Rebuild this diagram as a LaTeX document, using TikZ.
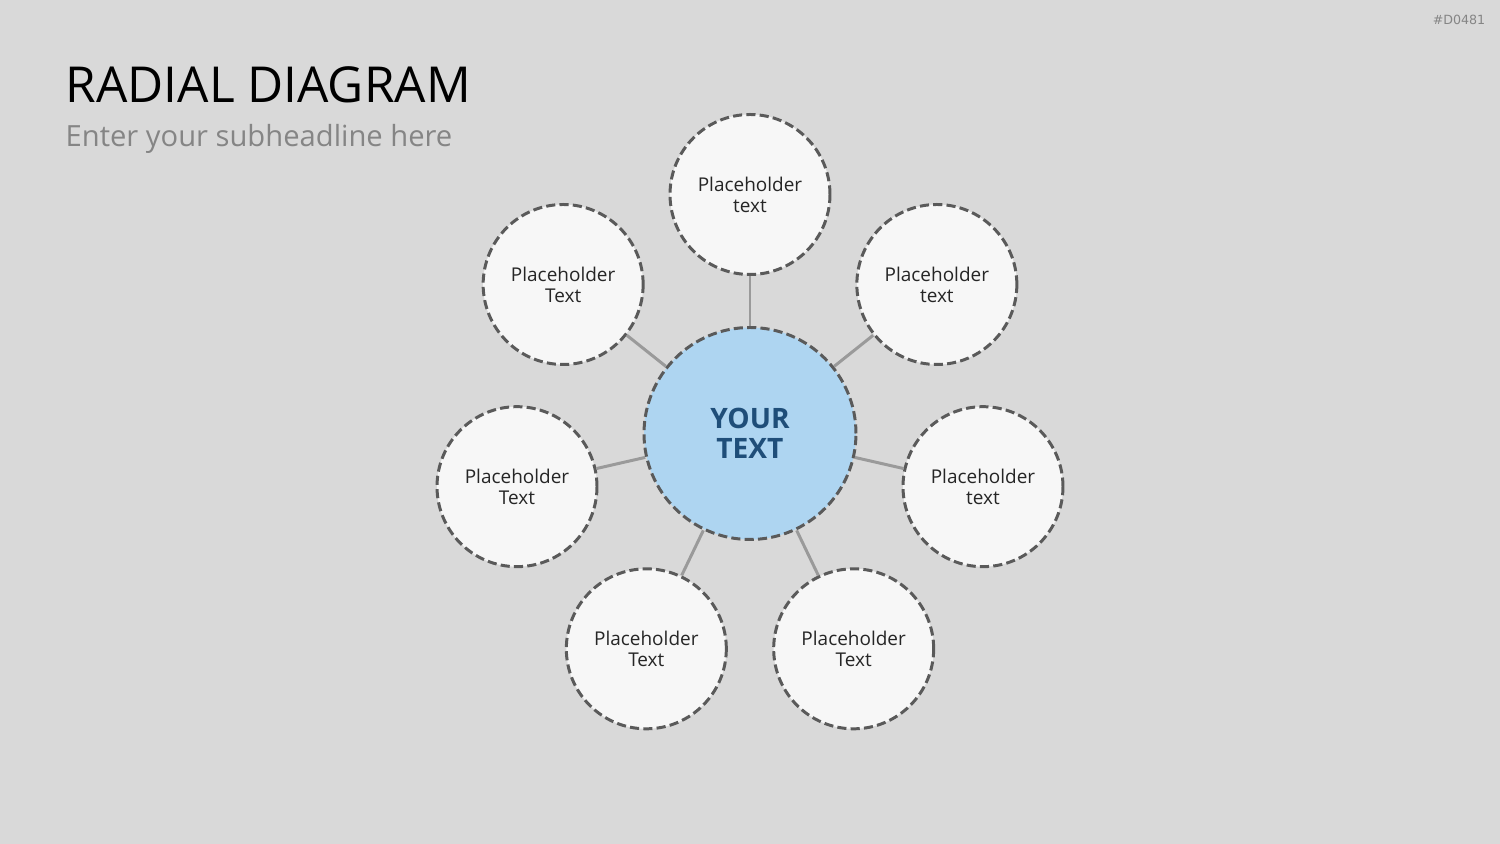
\documentclass[tikz,border=0pt]{standalone}
\usepackage{fontspec}
\setmainfont{Open Sans}
\newfontfamily\tagfont{DejaVu Sans}
\usetikzlibrary{positioning}
\definecolor{slidebg}{HTML}{D9D9D9}
\definecolor{hubblue}{HTML}{AED5F1}
\definecolor{hubtext}{HTML}{1F4E79}
\definecolor{leaffill}{HTML}{F7F7F7}
\definecolor{leaftext}{HTML}{262626}
\definecolor{ringgray}{HTML}{5A5A5A}
\definecolor{spokegray}{HTML}{9A9A9A}
\definecolor{subgray}{HTML}{858585}
\tikzset{
  Hub/.style={circle, draw=ringgray, dash pattern=on 2.6pt off 1.2pt,
              line width=0.85pt, fill=hubblue, minimum size=2.12cm,
              inner sep=0pt, align=center, text=hubtext,
              font=\fontsize{8}{8.5}\selectfont\bfseries},
  Leaf/.style={circle, draw=ringgray, dash pattern=on 2.6pt off 1.2pt,
               line width=0.85pt, fill=leaffill, minimum size=1.6cm,
               inner sep=0pt, align=center, text=leaftext,
               font=\fontsize{5.4}{6}\selectfont},
  Spoke/.style={draw=spokegray, line width=0.85pt}
}

\begin{document}
\begin{tikzpicture}
  \fill[slidebg] (0,0) rectangle (15,-8.44);
  \useasboundingbox (0,0) rectangle (15,-8.44);

  \node[anchor=base west, inner sep=0pt, font=\fontsize{14.1}{17}\selectfont] (title) at (0.65,-1.03) {RADIAL DIAGRAM};
  \node[anchor=base west, inner sep=0pt, text=subgray, font=\fontsize{8.3}{10}\selectfont] (sub) at (0.65,-1.47) {Enter your subheadline here};
  \node[anchor=base east, inner sep=0pt, text=subgray, font=\tagfont\fontsize{3.6}{4}\selectfont] (tag) at (14.86,-0.25) {\#D0481};

  \node[Hub] (c) at (7.5,-4.335) {YOUR\\TEXT};

  \foreach \i/\ang/\txt in {1/90/text, 2/38.57/text, 3/-12.86/text, 4/-64.29/Text,
                           5/-115.71/Text, 6/-167.14/Text, 7/141.43/Text} {
    \node[Leaf] (o\i) at ([shift={(\ang:2.39)}]c.center) {Placeholder\\\txt};
    \draw[Spoke] (c) -- (o\i);
  }
\end{tikzpicture}
\end{document}
